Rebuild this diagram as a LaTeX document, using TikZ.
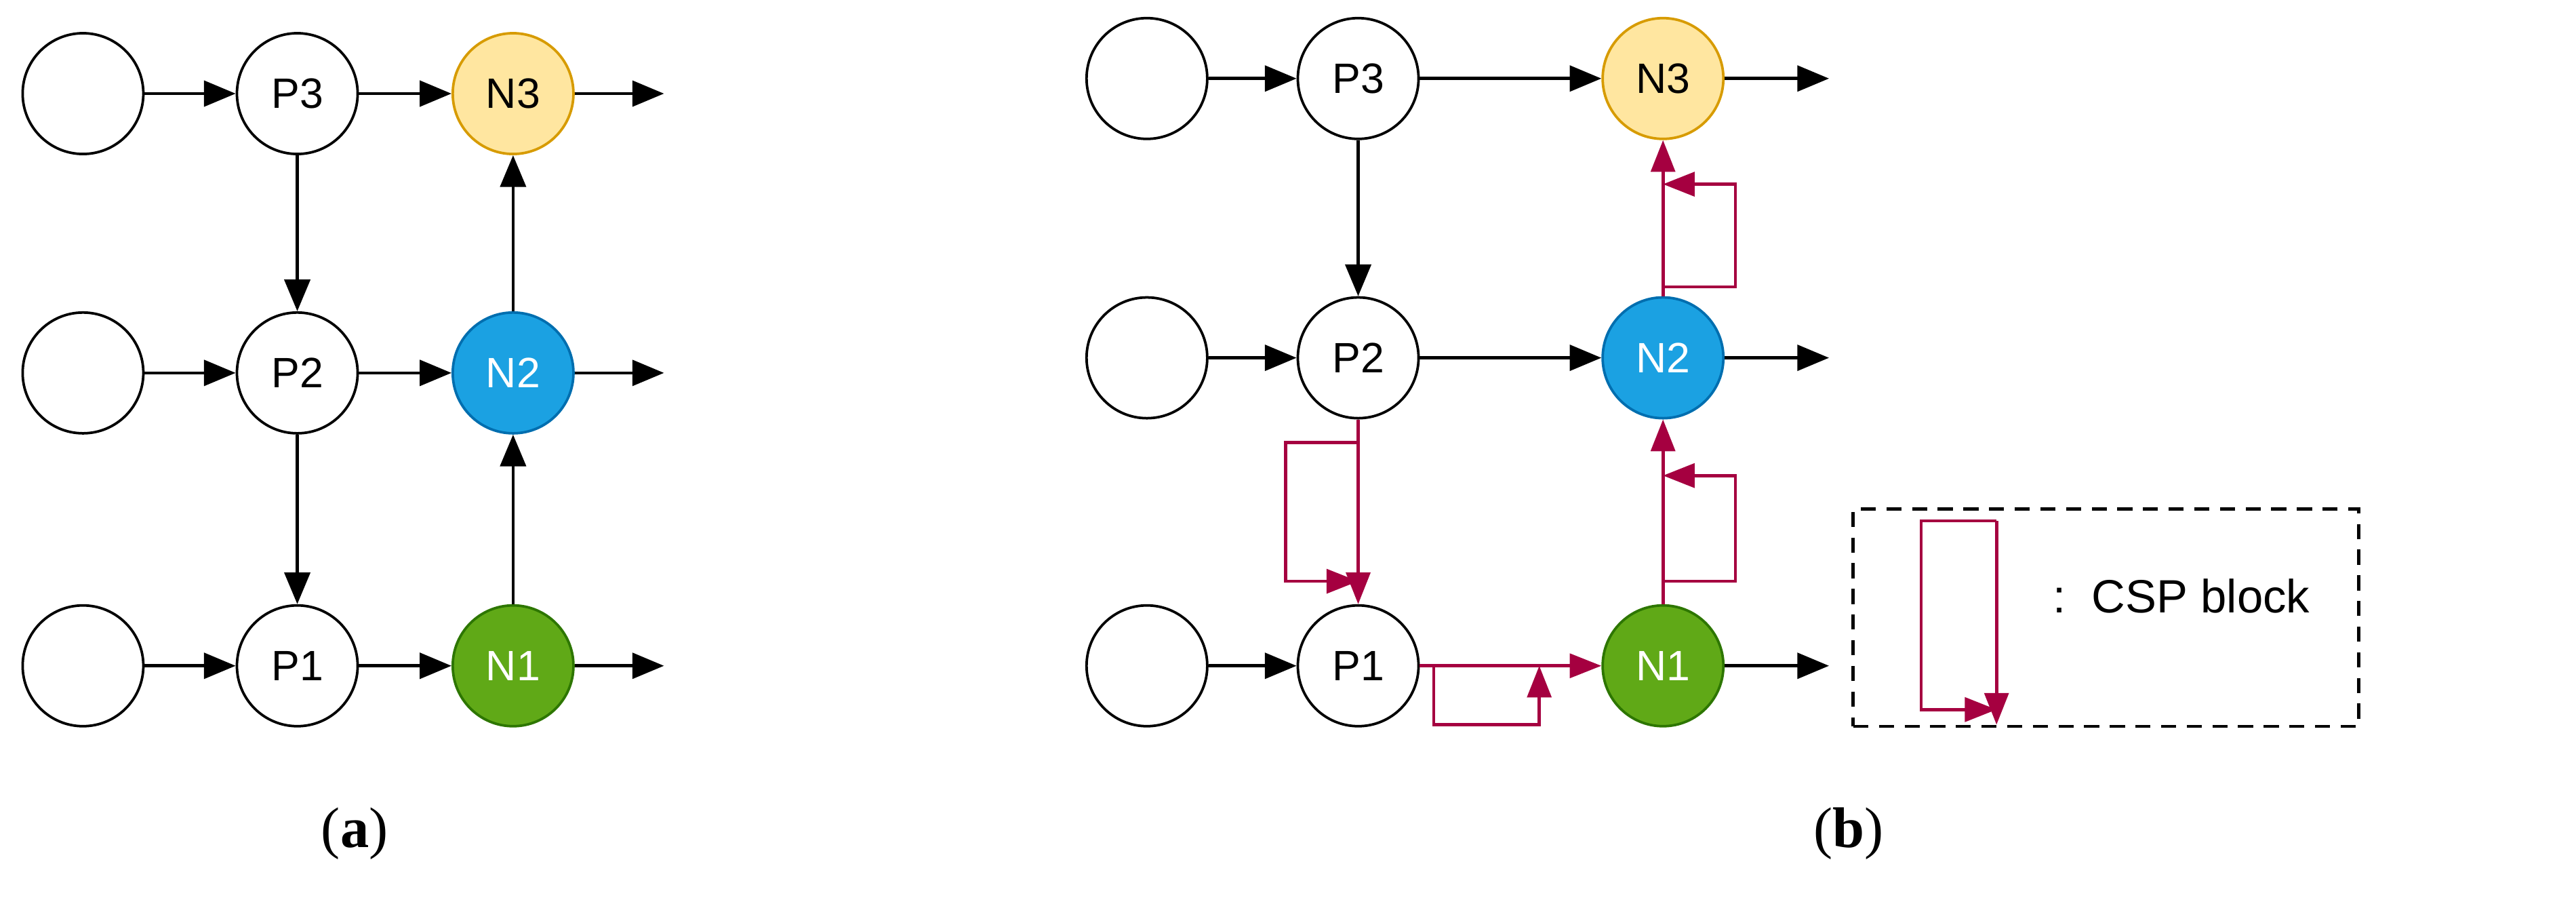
\documentclass[tikz,border=0pt]{standalone}
\usepackage{fontspec}
\setmainfont{Liberation Sans}
\newfontfamily\capfont{Liberation Serif}
\usetikzlibrary{arrows.meta}
\definecolor{cspred}{HTML}{A50040}
\begin{document}
\begin{tikzpicture}[x=0.05cm,y=-0.05cm,
  nd/.style={circle,draw,line width=2.4pt,minimum size=4cm,inner sep=0pt,font=\fontsize{40}{48}\selectfont},
  n3/.style={nd,fill={rgb,255:red,255;green,230;blue,160},draw={rgb,255:red,215;green,155;blue,0}},
  n2/.style={nd,fill={rgb,255:red,27;green,161;blue,226},draw={rgb,255:red,0;green,110;blue,175},text=white},
  n1/.style={nd,fill={rgb,255:red,96;green,169;blue,23},draw={rgb,255:red,45;green,118;blue,0},text=white},
  ar/.style={line width=3pt,-{Triangle[length=1.05cm,width=0.85cm]}},
  rar/.style={line width=3pt,draw=cspred,-{Triangle[length=1.05cm,width=0.8cm]},color=cspred},
  captxt/.style={font=\capfont\fontsize{54}{64}\selectfont}]
\useasboundingbox (0,0) rectangle (1707,597);
% panel a
\foreach \r/\y in {3/62,2/247,1/441}{
  \node[nd] (aE\r) at (55,\y) {};
  \node[nd] (aP\r) at (197,\y) {P\r};
  \coordinate (aO\r) at (440,\y);
  \draw[ar] (aE\r) -- (aP\r);
}
\node[n3] (aN3) at (340,62) {N3};
\node[n2] (aN2) at (340,247) {N2};
\node[n1] (aN1) at (340,441) {N1};
\foreach \r in {1,2,3}{\draw[ar] (aP\r) -- (aN\r); \draw[ar] (aN\r) -- (aO\r);}
\draw[ar] (aP3) -- (aP2); \draw[ar] (aP2) -- (aP1);
\draw[ar] (aN1) -- (aN2); \draw[ar] (aN2) -- (aN3);
\node[captxt] (la) at (235,552) {(\textbf{a})};
% panel b
\foreach \r/\y in {3/52,2/237,1/441}{
  \node[nd] (bE\r) at (760,\y) {};
  \node[nd] (bP\r) at (900,\y) {P\r};
  \coordinate (bO\r) at (1212,\y);
  \draw[ar] (bE\r) -- (bP\r);
}
\node[n3] (bN3) at (1102,52) {N3};
\node[n2] (bN2) at (1102,237) {N2};
\node[n1] (bN1) at (1102,441) {N1};
\foreach \r in {1,2,3}{\draw[ar] (bN\r) -- (bO\r);}
\draw[ar] (bP3) -- (bN3); \draw[ar] (bP2) -- (bN2);
\draw[ar] (bP3) -- (bP2);
% CSP links
\draw[rar] (bP2) -- (bP1);
\coordinate (c1a) at (900,293); \coordinate (c1b) at (900,385);
\draw[rar] (c1a) -- ++(-48,0) |- (c1b);
\draw[rar] (bP1) -- (bN1);
\coordinate (c2a) at (950,441); \coordinate (c2b) at (1020,441);
\draw[rar] (c2a) -- ++(0,39) -| (c2b);
\draw[rar] (bN1) -- (bN2);
\coordinate (c3a) at (1102,385); \coordinate (c3b) at (1102,315);
\draw[rar] (c3a) -- ++(48,0) |- (c3b);
\draw[rar] (bN2) -- (bN3);
\coordinate (c4a) at (1102,190); \coordinate (c4b) at (1102,122);
\draw[rar] (c4a) -- ++(48,0) |- (c4b);
% legend
\node[draw,line width=3pt,dash pattern=on 0.5cm off 0.35cm,minimum width=16.75cm,minimum height=7.2cm,anchor=north west] (leg) at (1227,336) {};
\coordinate (l1) at (1323,345); \coordinate (l2) at (1323,480);
\coordinate (l3) at (1323,470);
\draw[rar] (l1) -- (l2);
\draw[rar] (l1) -- ++(-50,0) |- (l3);
\node[anchor=west,font=\fontsize{44}{52}\selectfont] (lt) at (1358,395) {:\ \ CSP block};
\node[captxt] (lb) at (1225,552) {(\textbf{b})};
\end{tikzpicture}
\end{document}
